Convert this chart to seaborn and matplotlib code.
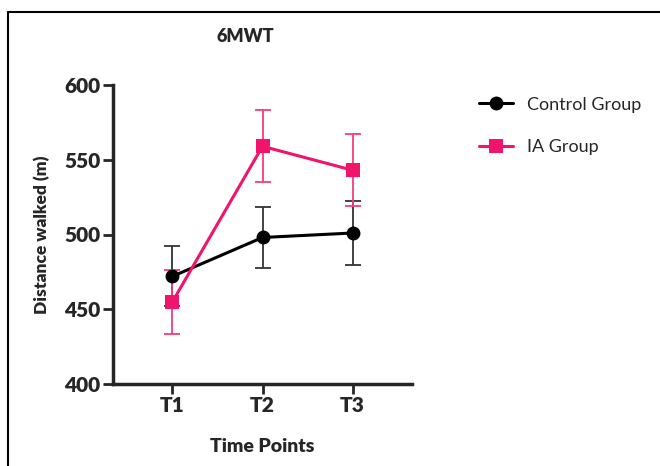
import pandas as pd
import matplotlib.pyplot as plt
import seaborn as sns
from matplotlib.lines import Line2D

# data
time_points = ['T1', 'T2', 'T3']
control_mean = [472, 498, 501]
control_err = [20, 20.5, 21.5]
ia_mean = [455, 559, 543]
ia_err = [21.5, 24, 24]

BLACK = '#000000'
PINK = '#f0156b'

sns.set_style('ticks')
plt.rcParams['font.family'] = ['Lato', 'DejaVu Sans']

df = pd.DataFrame({
    'time': time_points * 2,
    'dist': control_mean + ia_mean,
    'group': ['Control Group'] * 3 + ['IA Group'] * 3,
})
df['x'] = df['time'].map({t: i for i, t in enumerate(time_points)})

fig = plt.figure(figsize=(6.6, 4.66), dpi=100)
ax = fig.add_axes([113 / 660, 1 - 384 / 466, (412 - 113) / 660, (384 - 85) / 466])

# error bars first so the markers sit on top
ax.errorbar(range(3), control_mean, yerr=control_err, fmt='none', ecolor='#333333',
            elinewidth=1.3, capsize=6, capthick=1.3, zorder=2)
ax.errorbar(range(3), ia_mean, yerr=ia_err, fmt='none', ecolor='#f33d7f',
            elinewidth=1.3, capsize=6, capthick=1.3, zorder=2)

sns.lineplot(data=df, x='x', y='dist', hue='group', style='group',
             palette={'Control Group': BLACK, 'IA Group': PINK},
             markers={'Control Group': 'o', 'IA Group': 's'}, dashes=False,
             markersize=10, markeredgewidth=0, linewidth=2.2, ax=ax, zorder=3)

ax.set_xlim(-0.66, 2.66)
ax.set_ylim(400, 600)
ax.set_xticks(range(3))
ax.set_xticklabels(time_points)
ax.set_yticks([400, 450, 500, 550, 600])
sns.despine(ax=ax)
for s in ['left', 'bottom']:
    ax.spines[s].set_linewidth(2.5)
ax.tick_params(width=2, length=7, labelsize=15, pad=2)
for lab in ax.get_xticklabels() + ax.get_yticklabels():
    lab.set_fontweight('heavy')

ax.set_xlabel('Time Points', fontsize=14, fontweight='heavy', labelpad=16)
ax.set_ylabel('Distance walked (m)', fontsize=12.5, fontweight='heavy', labelpad=10)
fig.text(245 / 660, 1 - 36 / 466, '6MWT', fontsize=13, fontweight='heavy',
         ha='center', va='center')

ax.legend(loc='upper left', bbox_to_anchor=(1.17, 1.015), frameon=False,
          fontsize=13, handlelength=1.9, labelspacing=1.45, handletextpad=0.75)

# outer frame lines (top and left only, as in the reference)
fig.add_artist(Line2D([8 / 660, 8 / 660], [0, 1 - 12 / 466], color='black', lw=1.5,
                      transform=fig.transFigure))
fig.add_artist(Line2D([8 / 660, 1], [1 - 12 / 466, 1 - 12 / 466], color='black', lw=1.5,
                      transform=fig.transFigure))

fig.savefig('out.png', dpi=100)
